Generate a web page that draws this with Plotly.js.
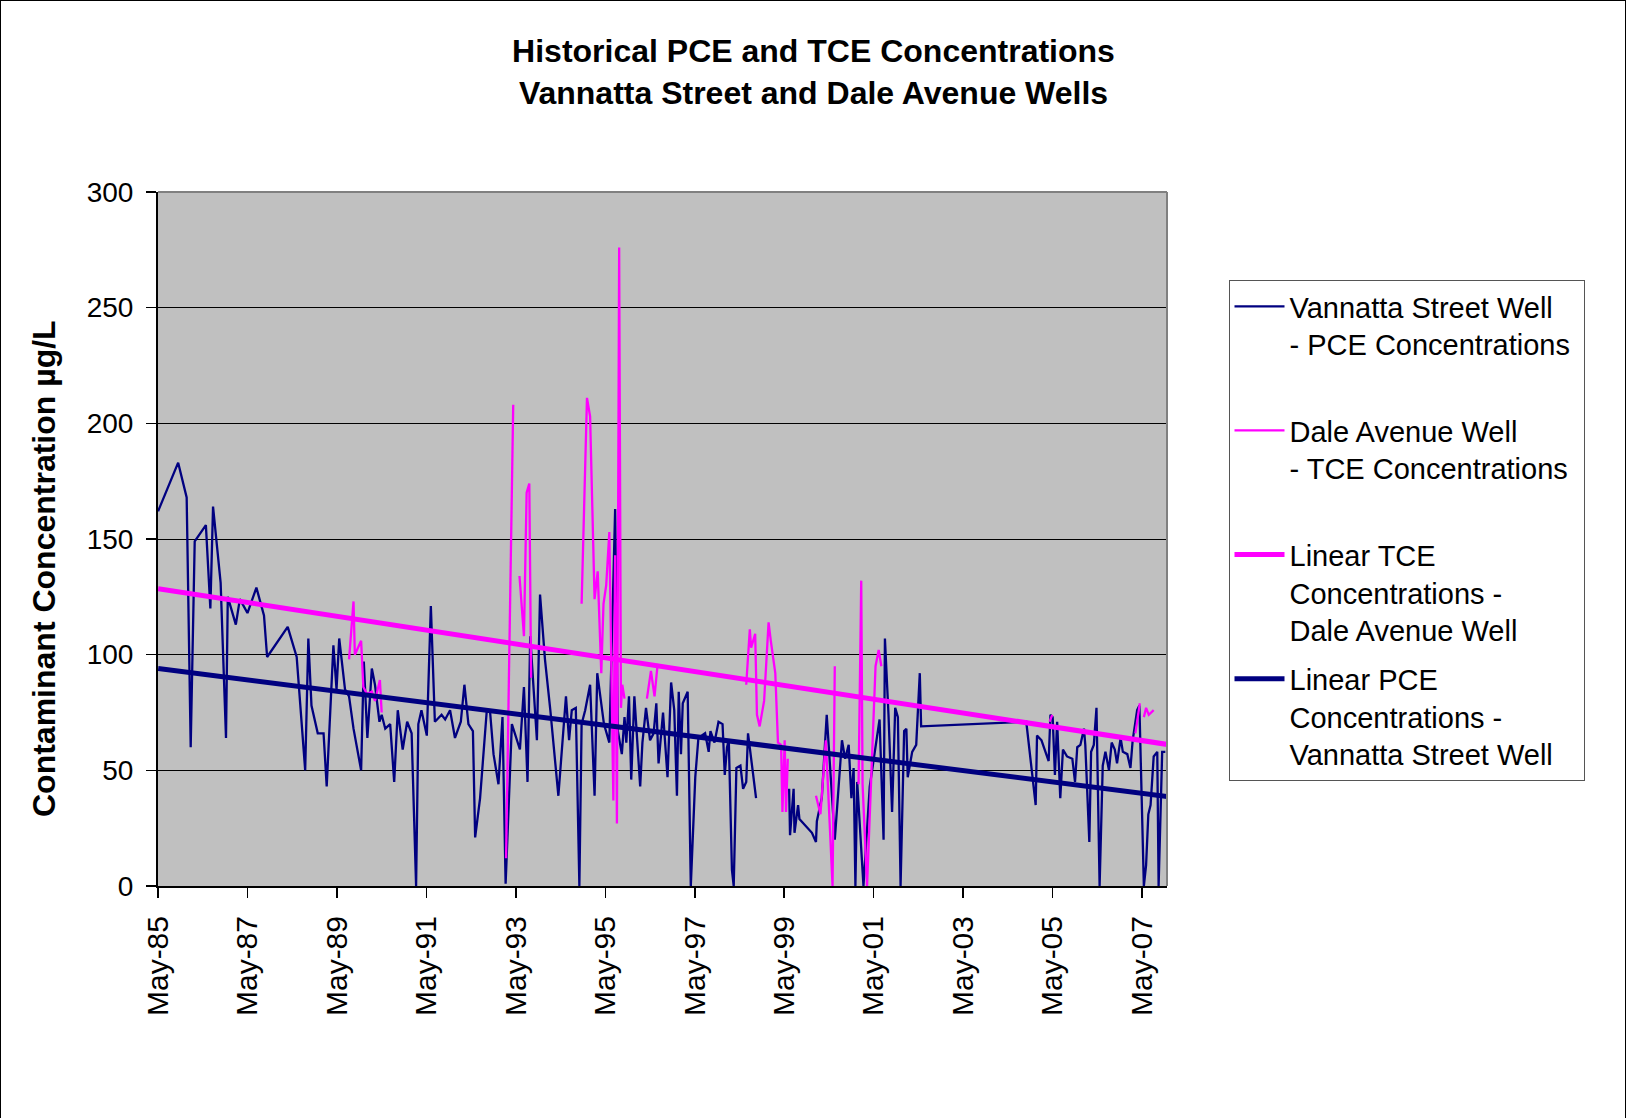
<!DOCTYPE html>
<html>
<head>
<meta charset="utf-8">
<script src="https://cdn.plot.ly/plotly-3.0.1.min.js"></script>
<style>
  html, body { margin: 0; padding: 0; background: #ffffff; }
  #wrap { position: relative; width: 1627px; height: 1118px; }
  #chart { position: absolute; left: 0; top: 0; width: 1627px; height: 1118px; }
  #frame { position: absolute; left: 0; top: 0; width: 1626px; height: 1118px;
           border-left: 1px solid #000; border-top: 1px solid #000; border-right: 1px solid #000;
           box-sizing: border-box; pointer-events: none; }
</style>
</head>
<body>
<div id="wrap"><div id="chart"></div><div id="frame"></div></div>
<script>
// ---- Data (decimal years, concentrations in µg/L); null = gap in the record ----
const pceYears = [
  1985.33,1985.78,1985.97,1986.06,1986.15,1986.40,1986.50,1986.56,1986.73,1986.85,1986.89,1987.07,1987.16,1987.33,1987.53,1987.70,1987.77,
  1988.23,1988.43,1988.62,1988.69,1988.76,1988.90,1989.03,1989.10,1989.25,1989.32,1989.38,1989.51,1989.60,1989.70,1989.87,1989.93,
  1990.01,1990.11,1990.18,1990.28,1990.33,1990.41,1990.52,1990.61,1990.69,1990.80,1990.90,1991.00,1991.10,1991.15,1991.22,1991.34,
  1991.43,1991.52,1991.67,1991.75,1991.86,1991.97,1992.10,1992.18,1992.27,1992.37,1992.42,1992.53,1992.68,1992.75,1992.83,1992.94,
  1993.03,1993.10,1993.24,1993.42,1993.51,1993.59,1993.65,1993.80,1993.87,1993.98,1994.10,1994.28,1994.36,1994.45,1994.52,1994.58,
  1994.67,1994.75,1994.80,1994.88,1994.99,1995.09,1995.15,1995.30,1995.42,1995.55,1995.61,1995.70,1995.76,1995.80,1995.86,1995.91,
  1995.98,1996.03,1996.11,1996.16,1996.24,1996.33,1996.41,1996.47,1996.52,1996.62,1996.72,1996.80,1996.87,1996.93,1996.97,1997.02,
  1997.06,1997.17,1997.24,1997.34,1997.41,1997.56,1997.64,1997.68,1997.77,1997.86,1997.95,1998.00,1998.05,1998.09,1998.16,1998.20,
  1998.26,1998.35,1998.41,1998.48,1998.52,1998.70,null,
  1999.44,1999.46,1999.54,1999.56,1999.64,1999.67,1999.95,2000.04,2000.06,2000.17,2000.28,2000.46,2000.62,2000.69,2000.77,2000.83,
  2000.88,2000.92,2000.96,2001.05,2001.10,2001.24,2001.46,2001.55,2001.58,2001.66,2001.74,2001.81,2001.87,2001.93,2002.01,2002.06,
  2002.09,2002.19,2002.28,2002.36,2002.39,2004.74,2004.80,2004.95,2004.98,2005.08,2005.24,2005.28,2005.33,2005.38,2005.43,2005.50,
  2005.56,2005.65,2005.77,2005.83,2005.88,2005.95,2006.03,2006.06,2006.15,2006.19,2006.25,2006.31,2006.38,2006.45,2006.51,2006.59,
  2006.65,2006.72,2006.77,2006.85,2006.90,2007.00,2007.07,2007.12,2007.22,2007.27,2007.37,2007.42,2007.47,2007.52,2007.59,2007.67,
  2007.70,2007.78,2007.85
];
const pceValues = [
  162,183,168,60,149,156,120,164,131,64,125,113,124,118,129,117,99,
  112,99,50,107,78,66,66,43,104,85,107,85,82,68,50,97,
  64,94,87,71,74,68,70,45,76,59,71,66,0,70,76,65,
  121,71,74,72,76,64,71,87,70,67,21,38,76,76,57,44,
  73,1,70,59,86,45,108,63,126,98,76,39,58,82,63,76,
  77,0,70,76,87,39,92,70,62,163,67,57,73,62,82,46,
  82,67,43,62,77,63,66,79,53,75,47,88,76,39,84,57,
  79,84,0,47,64,66,58,67,62,71,70,48,60,63,7,0,
  51,52,42,45,66,38,null,
  42,22,42,23,35,29,23,19,28,38,74,20,63,55,61,38,
  51,0,45,14,0,43,72,20,107,74,32,77,73,0,67,68,
  47,58,61,92,69,71,60,35,65,63,54,74,73,48,71,38,
  59,56,55,45,60,61,68,61,19,58,61,77,0,52,58,50,
  62,59,53,64,58,57,51,63,76,78,0,9,31,35,56,58,
  0,58,58
];

const tceYears = [
  1989.60,1989.70,1989.73,1989.87,1989.92,1990.00,1990.11,1990.18,1990.29,1990.33,null,
  1993.11,1993.27,null,
  1993.41,1993.51,1993.57,1993.63,1993.67,null,
  1994.80,1994.92,1994.99,1995.09,1995.16,1995.24,1995.29,1995.35,1995.42,1995.51,1995.55,1995.59,1995.64,1995.68,1995.71,1995.76,null,
  1996.26,1996.35,1996.43,1996.50,null,
  1998.48,1998.56,1998.59,1998.68,1998.72,1998.78,1998.88,1998.98,1999.03,1999.13,1999.19,1999.26,1999.29,1999.34,1999.37,1999.41,null,
  2000.04,2000.14,2000.26,2000.41,2000.46,null,
  2000.99,2001.05,2001.08,2001.18,2001.37,2001.44,2001.50,null,
  2005.26,2005.32,null,
  2007.18,2007.28,null,
  2007.37,2007.42,2007.48,2007.59
];
const tceValues = [
  98,123,100,106,86,83,84,80,89,75,null,
  12,208,null,
  134,108,170,174,90,null,
  122,211,203,124,136,92,122,130,153,37,143,27,276,77,87,81,null,
  81,93,82,96,null,
  87,111,103,109,74,69,80,114,106,92,62,61,32,63,32,55,null,
  39,31,63,0,95,null,
  44,132,44,0,95,102,95,null,
  71,74,null,
  66,79,null,
  73,77,74,76
];

// Linear trend lines (end points)
const trendYears = [1985.333, 2007.89];
const tceTrend = [128.5, 61.2];
const pceTrend = [94, 38.7];

// Axis ticks
const tickDates = ['1985-05-01','1987-05-01','1989-05-01','1991-05-01','1993-05-01','1995-05-01',
                   '1997-05-01','1999-05-01','2001-05-01','2003-05-01','2005-05-01','2007-05-01'];
const tickLabels = ['May-85','May-87','May-89','May-91','May-93','May-95',
                    'May-97','May-99','May-01','May-03','May-05','May-07'];
const yTicks = [0, 50, 100, 150, 200, 250, 300];
const xRange = ['1985-05-01', '2007-11-21'];

const seriesNames = [
  'Vannatta Street Well<br>- PCE Concentrations\u00a0<br>\u00a0',
  'Dale Avenue Well<br>- TCE Concentrations\u00a0<br>\u00a0',
  'Linear TCE<br>Concentrations -<br>Dale Avenue Well',
  'Linear PCE<br>Concentrations -<br>Vannatta Street Well'
];
const chartTitle = 'Historical PCE and TCE Concentrations<br>Vannatta Street and Dale Avenue Wells';
const yTitle = 'Contaminant Concentration µg/L';

function decYearToISO(y) {
  if (y === null) return null;
  const yr = Math.floor(y);
  const s = Date.UTC(yr, 0, 1), e = Date.UTC(yr + 1, 0, 1);
  return new Date(s + (y - yr) * (e - s)).toISOString().slice(0, 19).replace('T', ' ');
}

const NAVY = '#000080', MAGENTA = '#FF00FF';
const FONT = '"Liberation Sans", Arial, Helvetica, sans-serif';

// plot area in page pixels
const PL = 158, PR = 1167, PT = 192, PB = 886;
const PW = PR - PL, PH = PB - PT;

const traces = [
  { x: pceYears.map(decYearToISO), y: pceValues, type: 'scatter', mode: 'lines',
    name: seriesNames[0], legendgroup: 'a', connectgaps: false,
    line: { color: NAVY, width: 2.3 } },
  { x: tceYears.map(decYearToISO), y: tceValues, type: 'scatter', mode: 'lines',
    name: seriesNames[1], legendgroup: 'b', connectgaps: false,
    line: { color: MAGENTA, width: 2.3 } },
  { x: trendYears.map(decYearToISO), y: tceTrend, type: 'scatter', mode: 'lines',
    name: seriesNames[2], legendgroup: 'c',
    line: { color: MAGENTA, width: 5 } },
  { x: trendYears.map(decYearToISO), y: pceTrend, type: 'scatter', mode: 'lines',
    name: seriesNames[3], legendgroup: 'd',
    line: { color: NAVY, width: 5 } }
];

const layout = {
  width: 1627, height: 1118,
  paper_bgcolor: '#ffffff', plot_bgcolor: '#C0C0C0',
  margin: { l: PL, r: 1627 - PR, t: PT, b: 1118 - PB },
  font: { family: FONT, color: '#000000' },
  title: {
    text: chartTitle,
    font: { family: FONT, size: 32, weight: 'bold', color: '#000' },
    xref: 'container', x: 0.5, xanchor: 'center',
    yref: 'container', y: 1 - 62 / 1118, yanchor: 'middle'
  },
  xaxis: {
    type: 'date', range: xRange,
    tickmode: 'array', tickvals: tickDates, ticktext: tickLabels,
    tickangle: -90, tickfont: { family: FONT, size: 30, color: '#000' },
    ticks: 'outside', ticklen: 10, tickwidth: 1.5, tickcolor: '#000',
    ticklabelstandoff: 6,
    showgrid: false, zeroline: false,
    showline: true, linecolor: '#000', linewidth: 2
  },
  yaxis: {
    range: [0, 300], tickmode: 'array', tickvals: yTicks,
    tickfont: { family: FONT, size: 28, color: '#000' },
    ticks: 'outside', ticklen: 10, tickwidth: 1.5, tickcolor: '#000',
    ticklabelstandoff: 7,
    showgrid: true, gridcolor: '#000000', gridwidth: 1,
    zeroline: false, showline: true, linecolor: '#000', linewidth: 2
  },
  annotations: [
    { text: yTitle, textangle: -90, showarrow: false,
      xref: 'paper', x: (44 - PL) / PW, xanchor: 'center',
      yref: 'paper', y: (PB - 569) / PH, yanchor: 'middle',
      font: { family: FONT, size: 32, weight: 'bold', color: '#000' } }
  ],
  shapes: [
    { type: 'line', xref: 'paper', yref: 'paper', x0: 0, x1: 1, y0: 1, y1: 1,
      line: { color: '#808080', width: 2 } },
    { type: 'line', xref: 'paper', yref: 'paper', x0: 1, x1: 1, y0: 0, y1: 1,
      line: { color: '#808080', width: 2 } }
  ],
  showlegend: true,
  legend: {
    x: (1228.5 - PL) / PW, xanchor: 'left',
    y: (PB - 280) / PH, yanchor: 'top',
    bgcolor: '#ffffff', bordercolor: '#555555', borderwidth: 1,
    font: { family: FONT, size: 29, color: '#000' },
    valign: 'top', itemwidth: 50, tracegroupgap: 8,
    traceorder: 'grouped'
  }
};

Plotly.newPlot('chart', traces, layout, { staticPlot: true, displayModeBar: false });
</script>
</body>
</html>
